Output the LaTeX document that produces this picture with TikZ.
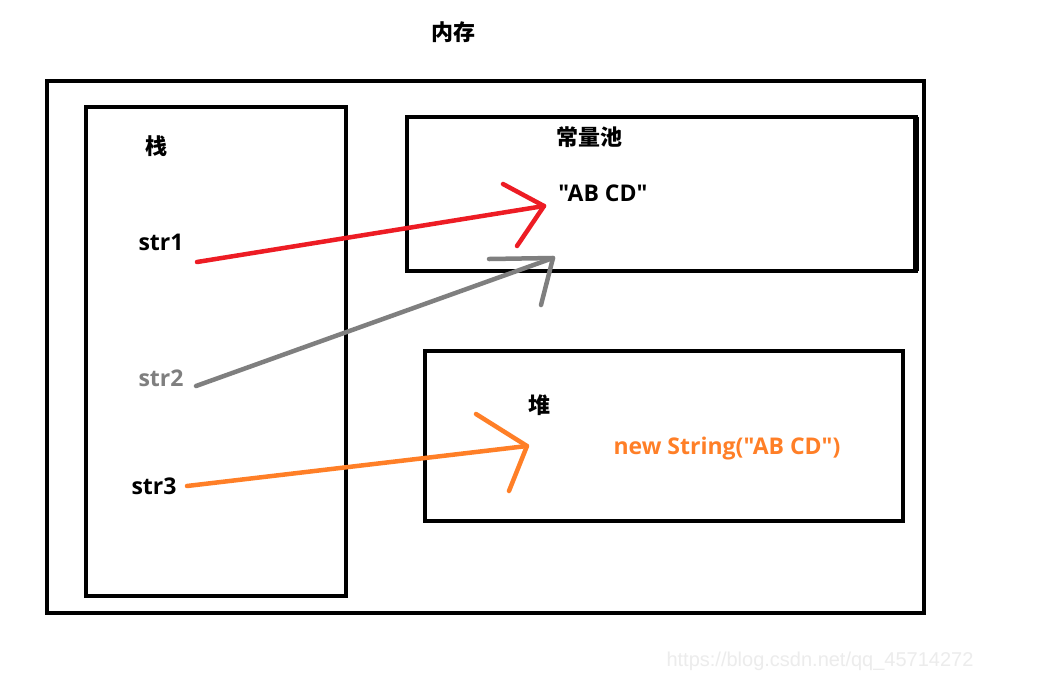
\documentclass[tikz,border=0pt]{standalone}
\usepackage{fontspec}
\setmainfont{Noto Sans CJK SC}[Ligatures=TeXReset]
\newfontfamily\latin{Open Sans}[Ligatures=TeXReset]
\newfontfamily\wmfont{Liberation Sans}
\definecolor{pred}{HTML}{ED1C24}
\definecolor{pgray}{HTML}{7F7F7F}
\definecolor{porange}{HTML}{FF7F27}
\definecolor{wm}{HTML}{ECECEC}
\begin{document}
\begin{tikzpicture}[x=1pt,y=-1pt,
  box/.style={draw=black,line width=4pt},
  lbl/.style={font=\fontsize{22}{26}\selectfont\bfseries,inner sep=0pt,anchor=center},
  lat/.style={font=\latin\fontsize{23}{27}\selectfont\bfseries,inner sep=0pt,anchor=center},
  stroke/.style={line width=4.5pt,line cap=round,line join=round}]
\path[use as bounding box,fill=white] (0,0) rectangle (1040,681);
% boxes
\draw[box] (47,81) rectangle (924,613);
\draw[box] (86,107) rectangle (346,596);
\draw[box] (407,117) rectangle (916,271);
\draw[line width=6pt] (916,117) -- (916,271);
\draw[box] (425,351) rectangle (903,521);
% labels
\node[lbl] (mem) at (453,32) {内存};
\node[lbl] (stack) at (156,146) {栈};
\node[lbl] (pool) at (589,137) {常量池};
\node[lat] (abcd) at (603,193) {"AB CD"};
\node[lbl] (heap) at (539,405) {堆};
\node[lat,text=porange] (newstr) at (727,449) {new String("AB CD")};
\node[lat] (s1) at (161,242) {str1};
\node[lat,text=pgray] (s2) at (161,378) {str2};
\node[lat] (s3) at (154,486) {str3};
\node[font=\wmfont\fontsize{20}{23}\selectfont,text=wm,inner sep=0pt] (wmk) at (820,661) {https://blog.csdn.net/qq\_45714272};
% arrows
\coordinate (t1) at (544,206);
\coordinate (t2) at (553,258);
\coordinate (t3) at (527,446);
\draw[stroke,pred] (197,262) -- (t1);
\draw[stroke,pred] (503,184) -- (t1) -- (517,246);
\draw[stroke,pgray] (196,386) -- (t2);
\draw[stroke,pgray] (489,259) -- (t2) -- (541,305);
\draw[stroke,porange] (187,486) -- (t3);
\draw[stroke,porange] (476,414) -- (t3) -- (509,491);
\end{tikzpicture}
\end{document}
